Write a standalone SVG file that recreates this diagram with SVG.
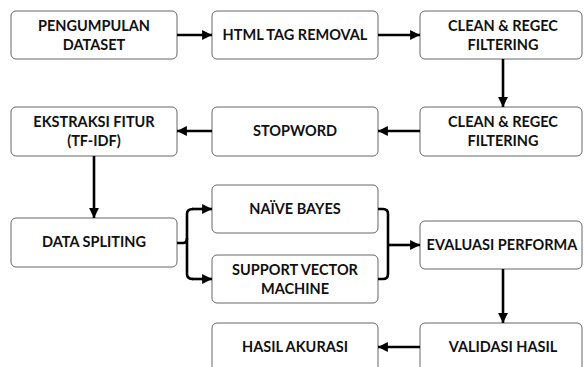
<svg xmlns="http://www.w3.org/2000/svg" width="584" height="367" viewBox="0 0 584 367">
<defs>
<marker id="ah" viewBox="0 0 10 10" refX="10" refY="5" markerWidth="3.8" markerHeight="3.8" orient="auto" markerUnits="strokeWidth">
<path d="M0,0 L10,5 L0,10 Z" fill="#000"/>
</marker>
<style>
.box{fill:#fff;stroke:#666;stroke-width:1}
.t{font-family:Lato,"Open Sans",sans-serif;font-weight:bold;font-size:14.5px;fill:#111;text-anchor:middle}
.c{fill:none;stroke:#000;stroke-width:2.6;marker-end:url(#ah)}
.cn{fill:none;stroke:#000;stroke-width:2.6}
</style>
</defs>
<rect width="584" height="367" fill="#fff"/>
<g id="n1"><rect class="box" x="11" y="11" width="166" height="48" rx="5"/><text class="t" x="94" y="31">PENGUMPULAN</text><text class="t" x="94" y="50">DATASET</text></g>
<g id="n2"><rect class="box" x="212" y="11" width="166" height="48" rx="5"/><text class="t" x="295" y="40">HTML TAG REMOVAL</text></g>
<g id="n3"><rect class="box" x="420" y="11" width="162" height="48" rx="5"/><text class="t" x="503" y="31">CLEAN &amp; REGEC</text><text class="t" x="503" y="50">FILTERING</text></g>
<g id="n4"><rect class="box" x="420" y="107" width="162" height="49" rx="5"/><text class="t" x="503" y="127">CLEAN &amp; REGEC</text><text class="t" x="503" y="146">FILTERING</text></g>
<g id="n5"><rect class="box" x="212" y="107" width="166" height="49" rx="5"/><text class="t" x="295" y="136">STOPWORD</text></g>
<g id="n6"><rect class="box" x="11" y="107" width="166" height="49" rx="5"/><text class="t" x="94" y="127">EKSTRAKSI FITUR</text><text class="t" x="94" y="146">(TF-IDF)</text></g>
<g id="n7"><rect class="box" x="11" y="218" width="166" height="49" rx="5"/><text class="t" x="94" y="247">DATA SPLITING</text></g>
<g id="n8"><rect class="box" x="212" y="185" width="166" height="48" rx="5"/><text class="t" x="295" y="214">NAÏVE BAYES</text></g>
<g id="n9"><rect class="box" x="212" y="255" width="166" height="48" rx="5"/><text class="t" x="295" y="275">SUPPORT VECTOR</text><text class="t" x="295" y="294">MACHINE</text></g>
<g id="n10"><rect class="box" x="420" y="221" width="162" height="48" rx="5"/><text class="t" x="502" y="250">EVALUASI PERFORMA</text></g>
<g id="n11"><rect class="box" x="420" y="323" width="162" height="50" rx="5"/><text class="t" x="503" y="352">VALIDASI HASIL</text></g>
<g id="n12"><rect class="box" x="212" y="323" width="166" height="50" rx="5"/><text class="t" x="295" y="352">HASIL AKURASI</text></g>
<g id="connectors">
<path class="c" d="M177,35 H212"/>
<path class="c" d="M378,35 H420"/>
<path class="c" d="M503,59 V107"/>
<path class="c" d="M420,131 H378"/>
<path class="c" d="M212,131 H177"/>
<path class="c" d="M94,156 V218"/>
<path class="cn" d="M177,243 H183 Q187,243 187,238 V214 Q187,209 193,209"/>
<path class="c" d="M192,209 H212"/>
<path class="cn" d="M187,238 V274 Q187,279 193,279"/>
<path class="c" d="M192,279 H212"/>
<path class="cn" d="M378,209 H383 Q388,209 388,214 V274 Q388,279 383,279 H378"/>
<path class="c" d="M388,245 H420"/>
<path class="c" d="M503,269 V323"/>
<path class="c" d="M420,347 H378"/>
</g>
</svg>
